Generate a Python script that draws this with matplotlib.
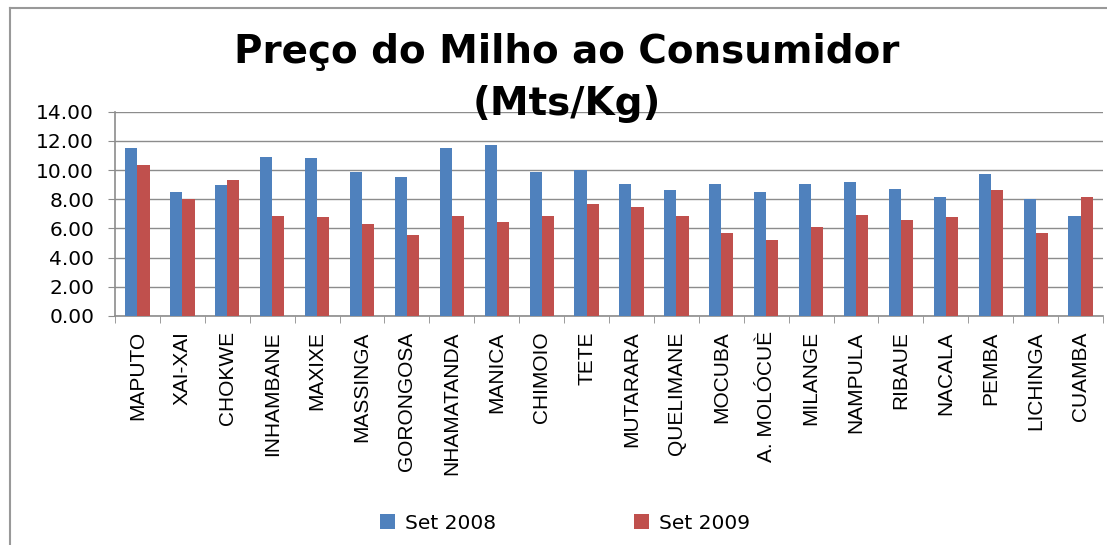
import matplotlib
matplotlib.use("Agg")
import matplotlib.pyplot as plt
from matplotlib.lines import Line2D
import numpy as np

categories = ["MAPUTO", "XAI-XAI", "CHOKWE", "INHAMBANE", "MAXIXE", "MASSINGA",
              "GORONGOSA", "NHAMATANDA", "MANICA", "CHIMOIO", "TETE", "MUTARARA",
              "QUELIMANE", "MOCUBA", "A. MOLÓCUÈ", "MILANGE", "NAMPULA", "RIBAUE",
              "NACALA", "PEMBA", "LICHINGA", "CUAMBA"]
set2008 = [11.54, 8.47, 8.95, 10.88, 10.81, 9.85, 9.50, 11.50, 11.70, 9.85, 9.98,
           9.02, 8.61, 9.02, 8.47, 9.02, 9.16, 8.68, 8.12, 9.71, 7.99, 6.82]
set2009 = [10.33, 7.99, 9.30, 6.82, 6.75, 6.27, 5.58, 6.82, 6.47, 6.82, 7.64,
           7.44, 6.82, 5.71, 5.23, 6.13, 6.95, 6.61, 6.75, 8.61, 5.71, 8.12]
series_labels = ["Set 2008", "Set 2009"]
yticks = [0, 2, 4, 6, 8, 10, 12, 14]
title = "Preço do Milho ao Consumidor\n(Mts/Kg)"

BLUE = "#4F81BD"
RED = "#C0504D"
GRID = "#8C8C8C"

fig = plt.figure(figsize=(11.07, 5.45), dpi=100)
ax = fig.add_axes([0.1039, 0.4202, 0.8925, 0.3749])

x = np.arange(len(categories))
w = 0.27
ax.bar(x - w / 2, set2008, width=w, color=BLUE, label=series_labels[0], zorder=3)
ax.bar(x + w / 2, set2009, width=w, color=RED, label=series_labels[1], zorder=3)

ax.set_xlim(-0.5, len(categories) - 0.5)
ax.set_ylim(0, 14)
ax.set_yticks(yticks)
ax.set_yticklabels([f"{v:.2f}" for v in yticks], fontsize=14.5, family="DejaVu Sans")
ax.yaxis.grid(True, color=GRID, linewidth=1, zorder=0)
ax.set_axisbelow(True)

ax.set_xticks(x)
ax.set_xticklabels(categories, rotation=90, fontsize=15, family="Liberation Sans",
                   va="top", ha="center")
ax.set_xticks(np.arange(-0.5, len(categories), 1.0), minor=True)
ax.tick_params(axis="x", which="major", length=0, pad=11)
ax.tick_params(axis="x", which="minor", length=5, color=GRID, direction="out")
ax.tick_params(axis="y", length=5, color=GRID, direction="out", pad=10)

for s in ["top", "right"]:
    ax.spines[s].set_visible(False)
for s in ["left", "bottom"]:
    ax.spines[s].set_color(GRID)
    ax.spines[s].set_linewidth(1.2)

fig.text(567 / 1107, 0.857, title, ha="center", va="center", fontsize=28,
         fontweight="bold", family="DejaVu Sans", linespacing=1.45)

leg = fig.legend(loc="center", bbox_to_anchor=(565 / 1107, 0.040), ncol=2,
                 frameon=False, fontsize=14.5, handlelength=0.75, handleheight=0.75,
                 handletextpad=0.5, columnspacing=6.8)

fig.add_artist(Line2D([10 / 1107, 10 / 1107], [0, 1 - 8 / 545],
                      transform=fig.transFigure, color="#999999", linewidth=1.5))
fig.add_artist(Line2D([10 / 1107, 1.0], [1 - 8 / 545, 1 - 8 / 545],
                      transform=fig.transFigure, color="#999999", linewidth=1.5))

fig.savefig("out.png", dpi=100, facecolor="white")
